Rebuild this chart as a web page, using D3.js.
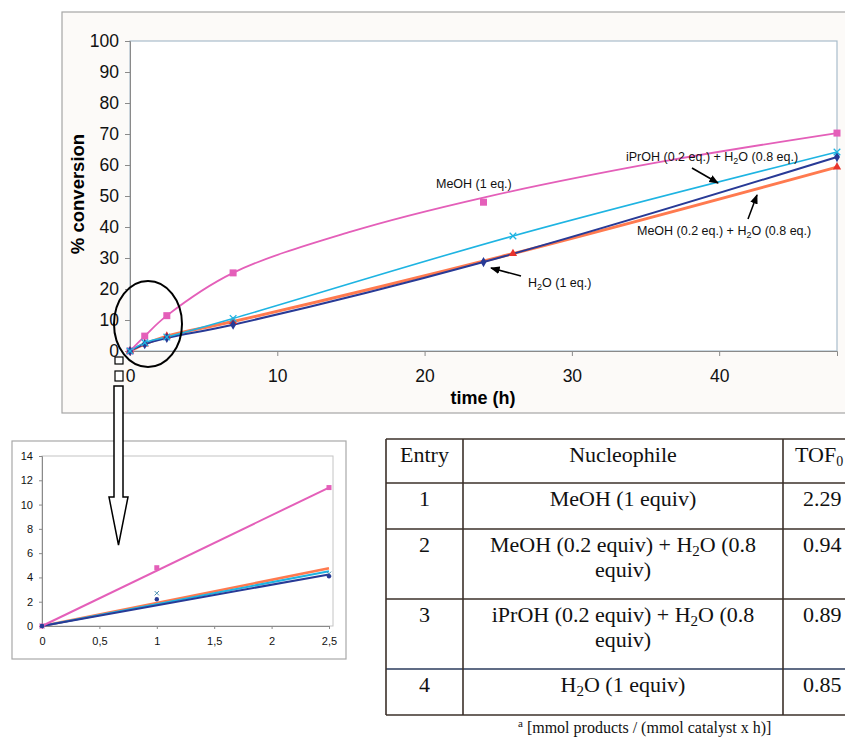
<!DOCTYPE html>
<html>
<head>
<meta charset="utf-8">
<script src="https://cdn.jsdelivr.net/npm/d3@7"></script>
<style>
body { margin: 0; background: #fff; }
svg { display: block; }
.ax text { font-family: Arial, "Liberation Sans", sans-serif; fill: #111; }
.ax path, .ax line { stroke: #8a8a8a; }
</style>
</head>
<body>
<svg id="fig" width="845" height="748"></svg>
<script>
// main chart: % conversion vs time (h)
var hours = [0, 1, 2.5, 7, 24, 48];
var hoursB = [0, 1, 2.5, 7, 26, 48];
var meoh = [0, 4.8, 11.4, 25.2, 48, 70.3];
var meohCurveT = [0, 1, 2.5, 7, 15, 24, 36, 48];
var meohCurve = [0, 4.8, 11.4, 25.2, 38.5, 49.5, 61, 70.3];
var iproh = [0, 2.7, 4.5, 10.5, 37.1, 64.2];
var meohWater = [0, 2.2, 4.8, 9.5, 31.4, 59.3];
var water = [0, 2.2, 4.2, 8.5, 28.7, 62.6];

// inset: first 2.5 h
var insetT = [0, 1, 2.5];
var insetMeoh = [0, 4.8, 11.4];
var insetIproh = [0, 2.7, 4.3];
var insetWater = [0, 2.2, 4.1];
var insetFitEnd = [11.4, 4.75, 4.5, 4.25]; // MeOH, MeOH+H2O, iPrOH+H2O, H2O at t=2.5

// table
var entries = ["1", "2", "3", "4"];
var nucleophiles = [
  [["MeOH (1 equiv)"]],
  [["MeOH (0.2 equiv) + H", "2", "O (0.8"], ["equiv)"]],
  [["iPrOH (0.2 equiv) + H", "2", "O (0.8"], ["equiv)"]],
  [["H", "2", "O (1 equiv)"]]
];
var tof = ["2.29", "0.94", "0.89", "0.85"];

var cPink = "#e45fb9", cCyan = "#1eb4e2", cOrange = "#ff7a4f", cRed = "#e8332c", cBlue = "#283a96";

var svg = d3.select("#fig");
var sans = "Arial, 'Liberation Sans', sans-serif";
var serif = "'Times New Roman', 'Liberation Serif', serif";

// outer frame of main chart
svg.append("rect").attr("x", 62).attr("y", 12).attr("width", 800).attr("height", 401)
  .attr("fill", "#fcfaf8").attr("stroke", "#a6a6a6").attr("stroke-width", 1.2);

var x = d3.scaleLinear().domain([0, 48]).range([130, 837]);
var y = d3.scaleLinear().domain([0, 100]).range([351, 41]);

svg.append("rect").attr("x", x(0)).attr("y", y(100)).attr("width", x(48) - x(0)).attr("height", y(0) - y(100))
  .attr("fill", "#fff").attr("stroke", "#a9bccb").attr("stroke-width", 1.2);

svg.append("g").attr("class", "ax")
  .attr("transform", "translate(" + x(0) + ",0)")
  .call(d3.axisLeft(y).tickValues(d3.range(0, 101, 10)).tickSize(5).tickPadding(6))
  .call(function(g) { g.selectAll("text").attr("font-size", 17.5); });

svg.append("g").attr("class", "ax")
  .attr("transform", "translate(0," + y(0) + ")")
  .call(d3.axisBottom(x).tickValues([0, 10, 20, 30, 40]).tickSize(5).tickPadding(14))
  .call(function(g) { g.selectAll("text").attr("font-size", 17.5); });

svg.append("text").attr("transform", "translate(84,194) rotate(-90)")
  .attr("text-anchor", "middle").attr("font-family", sans).attr("font-weight", "bold")
  .attr("font-size", 18.5).text("% conversion");
svg.append("text").attr("x", 483).attr("y", 404)
  .attr("text-anchor", "middle").attr("font-family", sans).attr("font-weight", "bold")
  .attr("font-size", 18).text("time (h)");

function pts(ts, vs) { return ts.map(function(t, i) { return [t, vs[i]]; }); }
var smooth = d3.line().x(function(d) { return x(d[0]); }).y(function(d) { return y(d[1]); })
  .curve(d3.curveCatmullRom.alpha(0.5));

var lines = svg.append("g").attr("fill", "none");
lines.append("path").attr("d", smooth(pts(hoursB, meohWater))).attr("stroke", cOrange).attr("stroke-width", 3);
lines.append("path").attr("d", smooth(pts(hours, water))).attr("stroke", cBlue).attr("stroke-width", 2);
lines.append("path").attr("d", smooth(pts(hoursB, iproh))).attr("stroke", cCyan).attr("stroke-width", 1.6);
lines.append("path").attr("d", smooth(pts(meohCurveT, meohCurve))).attr("stroke", cPink).attr("stroke-width", 1.8);

// markers
var mk = svg.append("g");
mk.selectAll(".sq").data(pts(hours, meoh)).enter().append("rect")
  .attr("x", function(d) { return x(d[0]) - 3.5; }).attr("y", function(d) { return y(d[1]) - 3.5; })
  .attr("width", 7).attr("height", 7).attr("fill", cPink);
mk.selectAll(".tri").data(pts(hoursB, meohWater)).enter().append("path")
  .attr("d", d3.symbol(d3.symbolTriangle, 30))
  .attr("transform", function(d) { return "translate(" + x(d[0]) + "," + y(d[1]) + ")"; })
  .attr("fill", cRed);
mk.selectAll(".dia").data(pts(hours, water)).enter().append("path")
  .attr("d", d3.symbol(d3.symbolDiamond, 30))
  .attr("transform", function(d) { return "translate(" + x(d[0]) + "," + y(d[1]) + ")"; })
  .attr("fill", cBlue);
mk.selectAll(".cx").data(pts(hoursB, iproh)).enter().append("path")
  .attr("d", d3.symbol(d3.symbolTimes, 30))
  .attr("transform", function(d) { return "translate(" + x(d[0]) + "," + y(d[1]) + ")"; })
  .attr("fill", "none").attr("stroke", cCyan).attr("stroke-width", 1.3);

// annotations
svg.append("defs").append("marker").attr("id", "ah").attr("viewBox", "0 0 10 10")
  .attr("refX", 9).attr("refY", 5).attr("markerWidth", 6).attr("markerHeight", 6)
  .attr("orient", "auto").append("path").attr("d", "M0,1 L10,5 L0,9 Z").attr("fill", "#000");

function label(xp, yp, parts) {
  var t = svg.append("text").attr("x", xp).attr("y", yp).attr("font-family", sans).attr("font-size", 12.5).attr("fill", "#111");
  parts.forEach(function(p, i) {
    var s = t.append("tspan").text(p);
    if (i % 2 == 1) s.attr("font-size", 9).attr("dy", 3);
    else if (i > 0) s.attr("dy", -3);
  });
}
label(436, 188, ["MeOH (1 eq.)"]);
label(626, 161, ["iPrOH (0.2 eq.) + H", "2", "O (0.8 eq.)"]);
label(637, 235, ["MeOH (0.2 eq.) + H", "2", "O (0.8 eq.)"]);
label(528, 287, ["H", "2", "O (1 eq.)"]);

var arrows = [[692, 168, 718, 183], [748, 219, 757, 195], [521, 276, 491, 268]];
svg.selectAll(".arr").data(arrows).enter().append("line")
  .attr("x1", function(d) { return d[0]; }).attr("y1", function(d) { return d[1]; })
  .attr("x2", function(d) { return d[2]; }).attr("y2", function(d) { return d[3]; })
  .attr("stroke", "#000").attr("stroke-width", 1.6).attr("marker-end", "url(#ah)");

// zoom ellipse and arrow
svg.append("ellipse").attr("cx", 148).attr("cy", 324).attr("rx", 34).attr("ry", 43)
  .attr("fill", "none").attr("stroke", "#000").attr("stroke-width", 2);
svg.append("rect").attr("x", 115).attr("y", 357).attr("width", 8).attr("height", 7)
  .attr("fill", "#fff").attr("stroke", "#000").attr("stroke-width", 1.2);
svg.append("rect").attr("x", 115).attr("y", 371).attr("width", 8).attr("height", 10)
  .attr("fill", "#fff").attr("stroke", "#000").attr("stroke-width", 1.2);

// inset
svg.append("rect").attr("x", 12).attr("y", 441).attr("width", 334).attr("height", 218)
  .attr("fill", "#fff").attr("stroke", "#a8a8a8").attr("stroke-width", 1.2);
var xi = d3.scaleLinear().domain([0, 2.5]).range([42, 329]);
var yi = d3.scaleLinear().domain([0, 14]).range([626, 456]);
svg.append("rect").attr("x", 42).attr("y", 456).attr("width", 291).attr("height", 170)
  .attr("fill", "none").attr("stroke", "#c4c4c4");
svg.append("g").attr("class", "ax").attr("transform", "translate(42,0)")
  .call(d3.axisLeft(yi).tickValues(d3.range(0, 15, 2)).tickSize(3).tickPadding(6))
  .call(function(g) { g.selectAll("text").attr("font-size", 11); });
svg.append("g").attr("class", "ax").attr("transform", "translate(0,626)")
  .call(d3.axisBottom(xi).tickValues([0, 0.5, 1, 1.5, 2, 2.5]).tickSize(3).tickPadding(8)
    .tickFormat(function(d) { return String(d).replace(".", ","); }))
  .call(function(g) { g.selectAll("text").attr("font-size", 11); });

var fitCols = [cPink, cOrange, cCyan, cBlue];
var fitW = [2, 2.6, 2, 2];
var fitOrder = [1, 2, 3, 0];
fitOrder.forEach(function(i) {
  svg.append("line").attr("x1", xi(0)).attr("y1", yi(0)).attr("x2", xi(2.5)).attr("y2", yi(insetFitEnd[i]))
    .attr("stroke", fitCols[i]).attr("stroke-width", fitW[i]);
});
svg.selectAll(".isq").data(pts(insetT, insetMeoh)).enter().append("rect")
  .attr("x", function(d) { return xi(d[0]) - 2.5; }).attr("y", function(d) { return yi(d[1]) - 2.5; })
  .attr("width", 5).attr("height", 5).attr("fill", cPink);
svg.selectAll(".ix").data(pts(insetT, insetIproh)).enter().append("path")
  .attr("d", d3.symbol(d3.symbolTimes, 14))
  .attr("transform", function(d) { return "translate(" + xi(d[0]) + "," + yi(d[1]) + ")"; })
  .attr("fill", "none").attr("stroke", "#4a8fb0").attr("stroke-width", 1);
svg.selectAll(".id").data(pts(insetT, insetWater)).enter().append("circle")
  .attr("cx", function(d) { return xi(d[0]); }).attr("cy", function(d) { return yi(d[1]); })
  .attr("r", 2.2).attr("fill", cBlue);

// hollow arrow from ellipse down to inset
svg.append("path").attr("d", "M114,386 V497 H109 L118.5,545 L128,497 H123 V386 Z")
  .attr("fill", "#fff").attr("stroke", "#000").attr("stroke-width", 1.5);

// table
var tb = svg.append("g").attr("stroke", "#3b302a").attr("stroke-width", 1.6);
var rowY = [439, 483, 529, 599, 669, 715];
rowY.forEach(function(ry, i) {
  tb.append("line").attr("x1", 386).attr("x2", 845).attr("y1", ry).attr("y2", ry)
    .attr("stroke", i == 4 ? "#2b3b5c" : null);
});
[386, 463, 783].forEach(function(cx) {
  tb.append("line").attr("x1", cx).attr("x2", cx).attr("y1", 439).attr("y2", 715);
});

function ttext(xp, yp, anchor) {
  return svg.append("text").attr("x", xp).attr("y", yp).attr("text-anchor", anchor)
    .attr("font-family", serif).attr("font-size", 22).attr("fill", "#111");
}
ttext(424.5, 462, "middle").text("Entry");
ttext(623, 462, "middle").text("Nucleophile");
var th = ttext(795, 462, "start").text("TOF");
th.append("tspan").attr("font-size", 14).attr("dy", 4).text("0");

var baseY = [506, 552, 622, 692];
entries.forEach(function(e, i) {
  ttext(424.5, baseY[i], "middle").text(e);
  ttext(803, baseY[i], "start").text(tof[i]);
  nucleophiles[i].forEach(function(ln, j) {
    var t = ttext(623, baseY[i] + j * 25, "middle");
    ln.forEach(function(p, k) {
      var s = t.append("tspan").text(p);
      if (k % 2 == 1) s.attr("font-size", 15).attr("dy", 4);
      else if (k > 0) s.attr("dy", -4);
    });
  });
});

var fn = svg.append("text").attr("x", 518).attr("y", 733).attr("font-family", serif)
  .attr("font-size", 16).attr("fill", "#111");
fn.append("tspan").attr("font-size", 11).attr("dy", -6).text("a");
fn.append("tspan").attr("dy", 6).text(" [mmol products / (mmol catalyst x h)]");
</script>
</body>
</html>
